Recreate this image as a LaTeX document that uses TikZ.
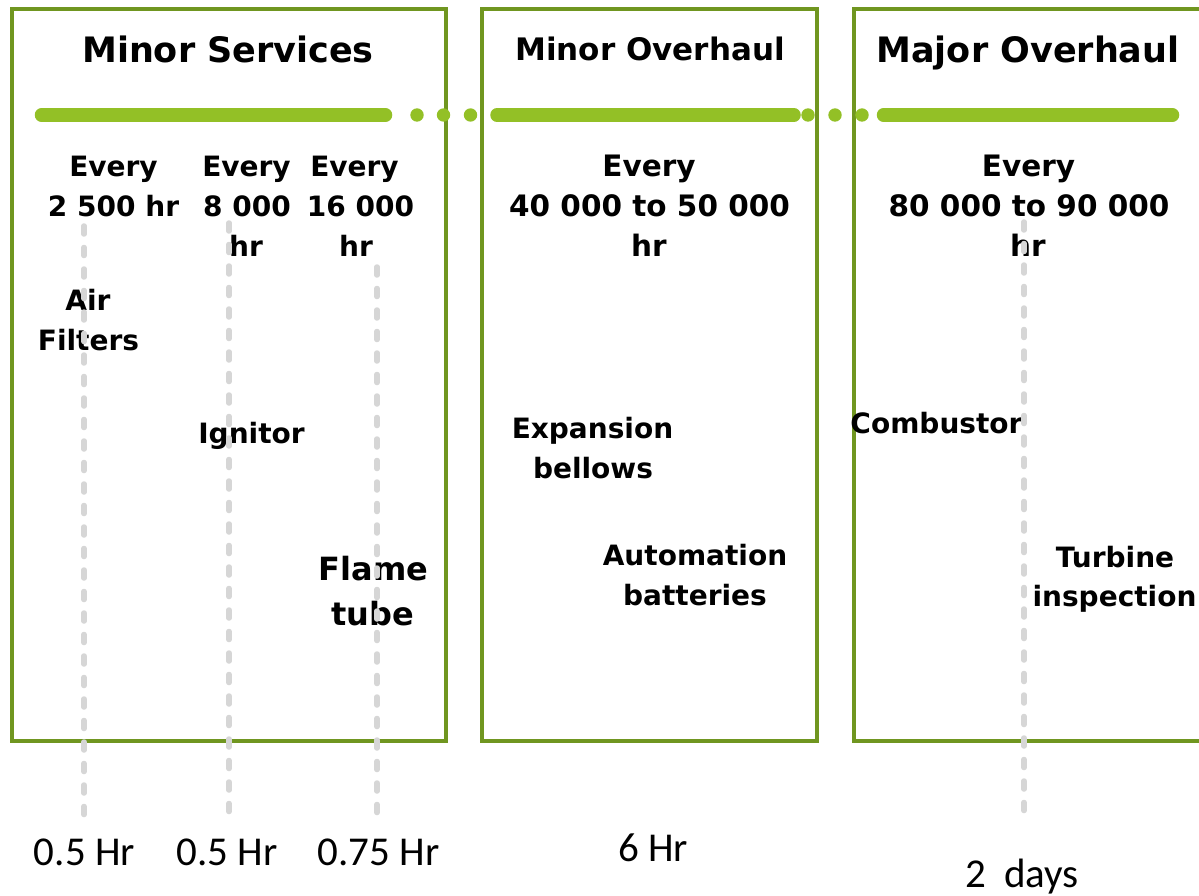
\documentclass[tikz,border=0pt]{standalone}
\usepackage{fontspec}
\setmainfont{DejaVu Sans}
\newfontfamily\hrfont{Carlito}
\definecolor{boxgreen}{RGB}{112,150,32}
\definecolor{bargreen}{RGB}{147,192,38}
\definecolor{dashgray}{RGB}{214,214,214}
\tikzset{
  phase/.style={draw=boxgreen, line width=4pt, line join=miter},
  bar/.style={draw=bargreen, line width=13.5pt, line cap=round},
  dot/.style={fill=bargreen},
  guide/.style={draw=dashgray, line width=5.5pt, line cap=round, dash pattern=on 8pt off 13.5pt},
  title/.style={font=\bfseries\fontsize{35}{42}\selectfont, inner sep=0pt, anchor=base},
  stitle/.style={font=\bfseries\fontsize{31}{38}\selectfont, inner sep=0pt, anchor=base},
  every/.style={font=\bfseries\fontsize{28}{34}\selectfont, inner sep=0pt, anchor=base},
  everyw/.style={font=\bfseries\fontsize{29.5}{34}\selectfont, inner sep=0pt, anchor=base},
  item/.style={font=\bfseries\fontsize{28}{34}\selectfont, inner sep=0pt, anchor=base},
  bigitem/.style={font=\bfseries\fontsize{32}{38}\selectfont, inner sep=0pt, anchor=base},
  dur/.style={font=\hrfont\fontsize{41}{48}\selectfont, inner sep=0pt, anchor=base},
}
\begin{document}
\begin{tikzpicture}[x=1pt, y=-1pt]
\useasboundingbox (0,0) rectangle (1199,896);
\clip (0,0) rectangle (1199,896);
\fill[white] (0,0) rectangle (1199,896);

% phase boxes
\draw[phase] (11.5,9) rectangle (445.5,740.5);
\draw[phase] (482,9) rectangle (817,740.5);
\draw[phase] (853.5,9) rectangle (1215,740.5);

% timeline bar
\draw[bar] (41.5,115) -- (385.5,115);
\fill[dot] (417,115) circle (6.7);
\fill[dot] (443.5,115) circle (6.7);
\fill[dot] (470.5,115) circle (6.7);
\draw[bar] (497,115) -- (794,115);
\fill[dot] (808,115) circle (6.7);
\fill[dot] (835,115) circle (6.7);
\fill[dot] (862,115) circle (6.7);
\draw[bar] (883.5,115) -- (1172.5,115);

% titles
\node[title] (t1) at (228,63) {Minor Services};
\node[stitle] (t2) at (650,61) {Minor Overhaul};
\node[title] (t3) at (1028,63) {Major Overhaul};

% intervals
\node[every] (e1a) at (113.5,177) {Every};
\node[every] (e1b) at (113.5,216) {2 500 hr};
\node[every] (e2a) at (246.5,177) {Every};
\node[every] (e2b) at (247,216) {8 000};
\node[every] (e2c) at (246,256) {hr};
\node[every] (e3a) at (354.5,177) {Every};
\node[every] (e3b) at (360.5,216) {16 000};
\node[every] (e3c) at (356,256) {hr};
\node[everyw] (e4a) at (649,177) {Every};
\node[everyw] (e4b) at (649.5,216) {40 000 to 50 000};
\node[everyw] (e4c) at (649,256) {hr};
\node[everyw] (e5a) at (1028.5,177) {Every};
\node[everyw] (e5b) at (1029,216) {80 000 to 90 000};
\node[everyw] (e5c) at (1028,256) {hr};

% items
\node[item] (i1a) at (88,310) {Air};
\node[item] (i1b) at (88.5,350) {Filters};
\node[item] (i2) at (251.5,443) {Ignitor};
\node[bigitem] (i3a) at (373.5,580) {Flame};
\node[bigitem] (i3b) at (373,625) {tube};
\node[item] (i4a) at (592.5,438) {Expansion};
\node[item] (i4b) at (593,478) {bellows};
\node[item] (i5a) at (695,565) {Automation};
\node[item] (i5b) at (695,605) {batteries};
\node[item] (i6) at (936.5,433) {Combustor};
\node[item] (i7a) at (1115,567) {Turbine};
\node[item] (i7b) at (1114.5,606) {inspection};

% durations
\node[dur] (d1) at (84.5,865) {0.5 Hr};
\node[dur] (d2) at (227,865) {0.5 Hr};
\node[dur] (d3) at (378.5,865) {0.75 Hr};
\node[dur] (d4) at (653,861) {6 Hr};
\node[dur] (d5) at (1022,887) {2\ \ days};

% guide lines
\coordinate (g1s) at (84,226);
\coordinate (g1e) at (84,815);
\coordinate (g2s) at (229,223);
\coordinate (g2e) at (229,815);
\coordinate (g3s) at (377,267);
\coordinate (g3e) at (377,820);
\coordinate (g4s) at (1024,222);
\coordinate (g4e) at (1024,812);
\draw[guide] (g1s) -- (g1e);
\draw[guide] (g2s) -- (g2e);
\draw[guide] (g3s) -- (g3e);
\draw[guide] (g4s) -- (g4e);
\end{tikzpicture}
\end{document}
